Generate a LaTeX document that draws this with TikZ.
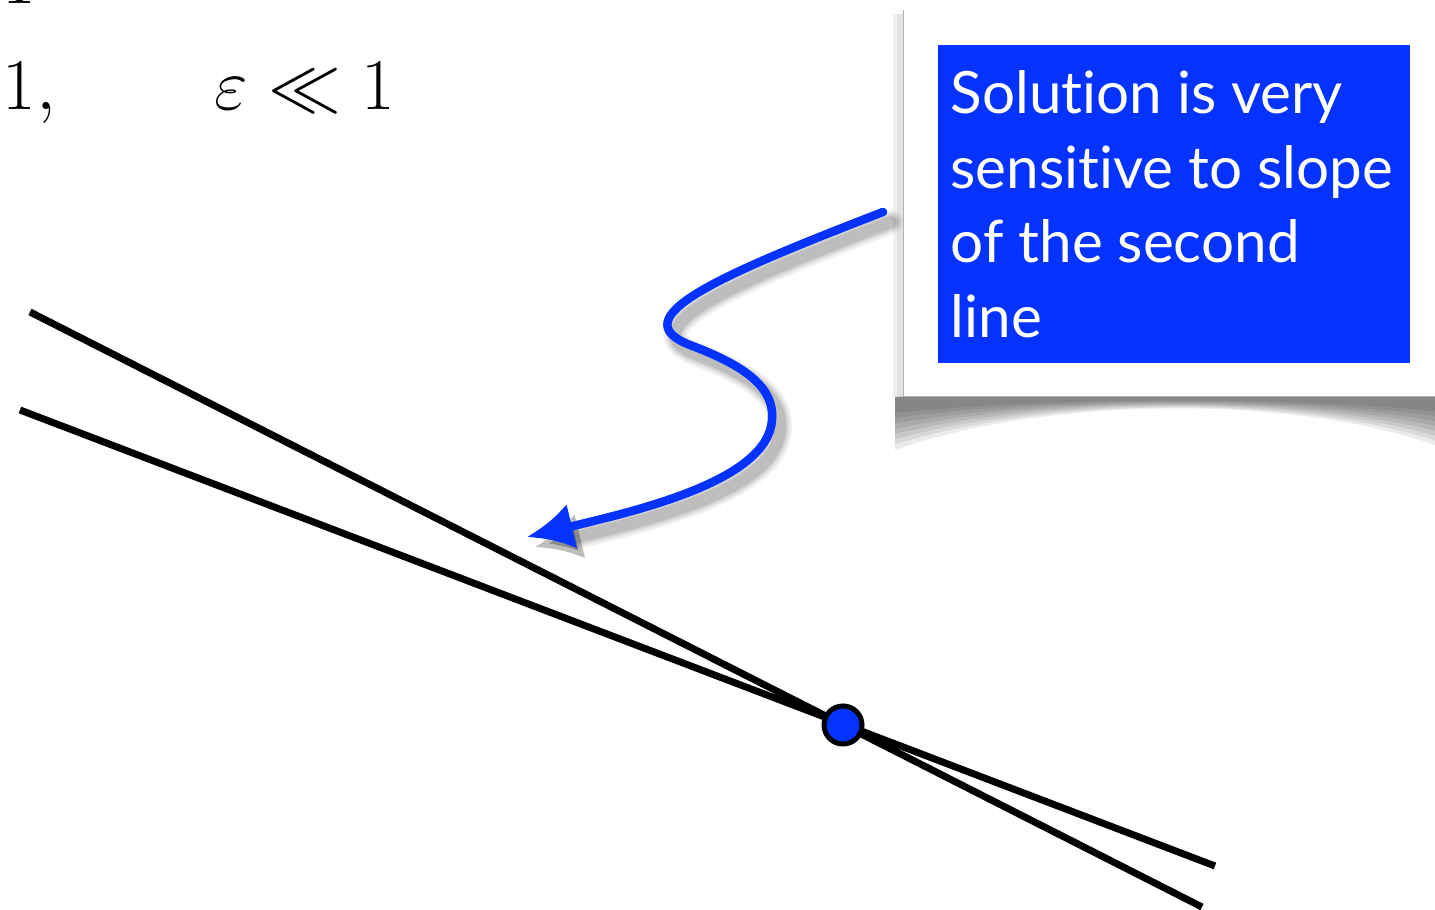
\documentclass[tikz,border=0pt]{standalone}
\usepackage{amsmath}
\usepackage{amssymb}
\usepackage{fontspec}
\newfontfamily\notefont[Ligatures=NoCommon]{Lato}
\usetikzlibrary{arrows.meta}
\usepackage{xcolor}
\definecolor{keyblue}{RGB}{4,51,255}
\tikzset{>={Latex[length=4.6mm,width=4.6mm]}}

\begin{document}
\begin{tikzpicture}[x=0.01cm, y=-0.01cm]
    % 1 unit = 1/100 cm, y grows downwards
    \tikzstyle{every node}=[inner sep=0pt]
    \tikzstyle{slope}=[black, line width=0.7mm]
    \tikzstyle{pointer}=[->, keyblue, line width=0.85mm, line cap=round]
    \tikzstyle{bigmath}=[anchor=base west, font=\fontsize{20.8}{25}\selectfont]
    \useasboundingbox (0,0) rectangle (1435,910);

    \node[bigmath] (prev) at (2,4) {$1$};
    \node[bigmath] (eqn) at (2,110) {$1,\qquad\varepsilon\ll 1$};

    % the two lines and where they cross
    \coordinate (a1) at (30,312);
    \coordinate (a2) at (1202,907);
    \coordinate (b1) at (20,410);
    \coordinate (b2) at (1215,866);
    \draw[slope] (a1) -- (a2);
    \draw[slope] (b1) -- (b2);
    \node[circle, fill=keyblue, draw=black, line width=0.5mm, minimum size=3.8mm] (sol) at (843,725) {};

    % card with curled shadow
    \foreach \s in {1.0,0.9,0.8,0.7,0.6,0.5,0.4,0.3}
        \fill[black, opacity=0.08] (895,397) -- (895,{397+53*\s})
            .. controls (1050,{397-2*\s}) and (1300,{397-2*\s}) .. (1440,{397+50*\s})
            -- (1440,397) -- cycle;
    \fill[black, opacity=0.06] (893,14) rectangle (903,397);
    \fill[black, opacity=0.06] (897,14) rectangle (903,397);
    \fill[white] (903,10) rectangle (1440,397);
    \draw[black!30, line width=0.1mm] (903,10) -- (903,397) -- (1440,397);

    \node[fill=keyblue, anchor=north west, minimum width=4.72cm, minimum height=3.18cm] (note) at (937,44) {};
    \node[anchor=north west, text=white, align=left, font=\notefont\fontsize{16.6}{21.2}\selectfont]
        (notetext) at (950,70) {Solution is very\\sensitive to slope\\of the second\\line};

    % pointer from the card down to the lines
    \coordinate (tail) at (883,212);
    \coordinate (head) at (527,537);
    \foreach \w/\o in {2.4/0.05, 2.0/0.06, 1.6/0.08, 1.2/0.1}
        \draw[->, black, opacity=\o, line width=\w mm, line cap=round, shift={(8,10)}]
            (883,212) .. controls (720,275) and (620,318) .. (690,345)
            .. controls (740,364) and (775,385) .. (772,420)
            .. controls (768,480) and (640,510) .. (527,537);
    \draw[pointer] (tail) .. controls (720,275) and (620,318) .. (690,345)
        .. controls (740,364) and (775,385) .. (772,420)
        .. controls (768,480) and (640,510) .. (head);
\end{tikzpicture}
\end{document}
